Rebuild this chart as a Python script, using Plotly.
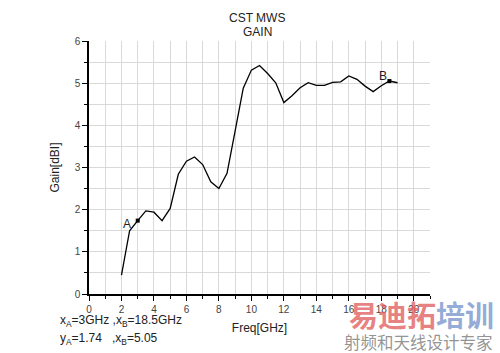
import plotly.graph_objects as go

freq = [2.0, 2.5, 3.0, 3.5, 4.0, 4.5, 5.0, 5.5, 6.0, 6.5, 7.0, 7.5, 8.0, 8.5, 9.0, 9.5,
        10.0, 10.5, 11.0, 11.5, 12.0, 12.5, 13.0, 13.5, 14.0, 14.5, 15.0, 15.5, 16.0,
        16.5, 17.0, 17.5, 18.0, 18.5, 19.0]
gain = [0.45, 1.50, 1.74, 1.97, 1.94, 1.74, 2.03, 2.84, 3.15, 3.25, 3.07, 2.66, 2.50, 2.86,
        3.87, 4.88, 5.31, 5.42, 5.23, 5.01, 4.54, 4.70, 4.89, 5.01, 4.95, 4.95, 5.02, 5.03,
        5.17, 5.09, 4.93, 4.80, 4.94, 5.05, 5.01]
marker_x = [3.0, 18.5]
marker_y = [1.74, 5.05]
marker_names = ["A", "B"]
x_ticks = [0, 2, 4, 6, 8, 10, 12, 14, 16, 18, 20]
y_ticks = [0, 1, 2, 3, 4, 5, 6]

FONT = "Liberation Sans, Arial, sans-serif"

fig = go.Figure()
fig.add_trace(go.Scatter(x=freq, y=gain, mode="lines",
                         line=dict(color="black", width=1.3), showlegend=False))
fig.add_trace(go.Scatter(x=marker_x, y=marker_y, mode="markers",
                         marker=dict(color="black", size=4, symbol="square"), showlegend=False))

fig.update_layout(
    width=500, height=353,
    margin=dict(l=89, r=70, t=41, b=59),
    paper_bgcolor="white", plot_bgcolor="white",
    font=dict(family=FONT, color="#222"),
    xaxis=dict(range=[0, 21], tickvals=x_ticks, showgrid=True, gridcolor="#d9d9d9", gridwidth=1,
               minor=dict(dtick=1, tick0=0, showgrid=True, gridcolor="#d9d9d9", ticks="outside",
                          ticklen=3, tickcolor="black"),
               showline=True, linecolor="black", linewidth=1.5, ticks="outside", ticklen=5,
               tickcolor="black", tickfont=dict(size=10, color="#444"), zeroline=False,
               title=dict(text="Freq[GHz]", font=dict(size=12, color="#222"), standoff=10)),
    yaxis=dict(range=[0, 6], tickvals=y_ticks, showgrid=True, gridcolor="#d9d9d9", gridwidth=1,
               minor=dict(dtick=0.5, tick0=0, showgrid=True, gridcolor="#d9d9d9", ticks="outside",
                          ticklen=3, tickcolor="black"),
               showline=True, linecolor="black", linewidth=1.5, ticks="outside", ticklen=5,
               tickcolor="black", tickfont=dict(size=10, color="#444"), zeroline=False,
               title=dict(text="Gain[dBI]", font=dict(size=12, color="#222"), standoff=12)),
)

ann = [
    dict(text="CST MWS", x=257, y=17.7),
    dict(text="GAIN", x=257, y=32.3),
]
for a in ann:
    fig.add_annotation(text=a["text"], xref="paper", yref="paper",
                       x=(a["x"] - 89) / 341, y=1 - (a["y"] - 41) / 253,
                       xanchor="center", yanchor="middle", showarrow=False,
                       font=dict(size=12, color="#222"))

for mx, my, nm, dx, dy in zip(marker_x, marker_y, marker_names, [-11, -6], [-3, 5]):
    fig.add_annotation(text=nm, x=mx, y=my, xshift=dx, yshift=dy, showarrow=False,
                       font=dict(size=12, color="#222"))

fig.add_annotation(text="x<sub>A</sub>=3GHz ,x<sub>B</sub>=18.5GHz", xref="paper", yref="paper",
                   x=(58 - 89) / 341, y=1 - (321 - 41) / 253, xanchor="left", yanchor="middle",
                   showarrow=False, font=dict(size=12, color="#222"))
fig.add_annotation(text="y<sub>A</sub>=1.74   ,x<sub>B</sub>=5.05", xref="paper", yref="paper",
                   x=(58 - 89) / 341, y=1 - (339 - 41) / 253, xanchor="left", yanchor="middle",
                   showarrow=False, font=dict(size=12, color="#222"))

# watermark
fig.add_annotation(text="<b><span style='color:rgba(225,95,95,0.8)'>易迪拓</span>"
                        "<span style='color:rgba(120,150,205,0.8)'>培训</span></b>",
                   xref="paper", yref="paper", x=(496 - 89) / 341, y=1 - (314 - 41) / 253,
                   xanchor="right", yanchor="middle", showarrow=False,
                   font=dict(size=29, family="Noto Sans CJK SC"))
fig.add_annotation(text="射频和天线设计专家", xref="paper", yref="paper",
                   x=(495 - 89) / 341, y=1 - (342 - 41) / 253, xanchor="right", yanchor="middle",
                   showarrow=False, font=dict(size=16.5, color="rgba(120,120,120,0.8)",
                                              family="Noto Sans CJK SC"))

fig.write_html("out.html")
